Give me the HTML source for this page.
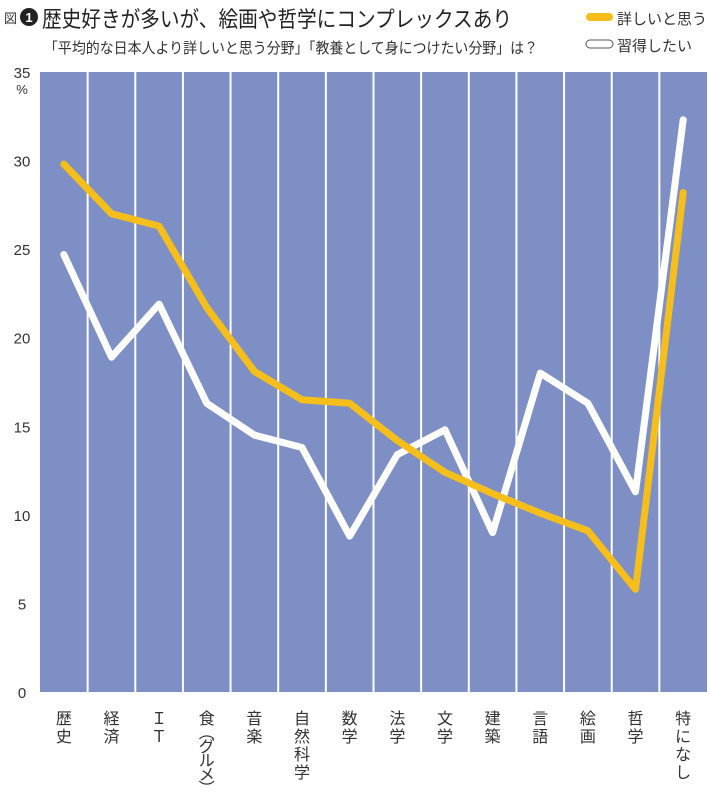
<!DOCTYPE html>
<html><head><meta charset="utf-8"><style>
body{margin:0;background:#fff;width:710px;height:796px;overflow:hidden;font-family:"Liberation Sans","Noto Sans CJK JP",sans-serif;}
</style></head><body>
<svg width="710" height="796" xmlns="http://www.w3.org/2000/svg">
<g>
<text x="4" y="23" font-size="13" fill="#333" font-family="Noto Sans CJK JP, sans-serif">図</text>
<circle cx="29" cy="17" r="9" fill="#222"/>
<text x="29" y="22" font-size="13" fill="#fff" text-anchor="middle" font-family="Liberation Sans, sans-serif" font-weight="bold">1</text>
<text x="42" y="27" font-size="22" fill="#222" font-family="Noto Sans CJK JP, sans-serif" textLength="470" lengthAdjust="spacingAndGlyphs">歴史好きが多いが、絵画や哲学にコンプレックスあり</text>
<text x="44" y="53" font-size="15" fill="#333" font-family="Noto Sans CJK JP, sans-serif" textLength="494" lengthAdjust="spacingAndGlyphs">「平均的な日本人より詳しいと思う分野」「教養として身につけたい分野」は？</text>
</g>
<g>
<g>
<rect x="586" y="13" width="27" height="8" rx="4" fill="#f5be1a"/>
<text x="617" y="24" font-size="15" fill="#333" font-family="Noto Sans CJK JP, sans-serif">詳しいと思う</text>
</g>
<g>
<rect x="586" y="40" width="27" height="8" rx="4" fill="#fff" stroke="#555" stroke-width="1"/>
<text x="617" y="51" font-size="15" fill="#333" font-family="Noto Sans CJK JP, sans-serif">習得したい</text>
</g>
</g>
<rect x="40" y="72" width="667" height="620" fill="#7e8fc5"/>
<g id="dividers"></g>
<g id="yaxis"></g>
<g id="xaxis"></g>
<g id="series"></g>
</svg>
<script>
const categories=["歴史","経済","IT","食（グルメ）","音楽","自然科学","数学","法学","文学","建築","言語","絵画","哲学","特になし"];
const labelTexts=["歴史","経済","ＩＴ","食︵グルメ︶","音楽","自然科学","数学","法学","文学","建築","言語","絵画","哲学","特になし"];
const knowValues=[29.8,27.0,26.3,21.7,18.1,16.5,16.3,14.2,12.4,11.2,10.1,9.1,5.8,28.2];
const learnValues=[24.7,18.9,21.9,16.3,14.5,13.8,8.8,13.4,14.8,9.0,18.0,16.3,11.3,32.3];
const yTicks=[0,5,10,15,20,25,30,35];
const NS="http://www.w3.org/2000/svg";
const L=40,R=707,T=72,B=692,YMAX=35;
const bw=(R-L)/categories.length;
function x(i){return L+bw*(i+0.5);}
function y(v){return B-(v/YMAX)*(B-T);}
function mk(t,a){const e=document.createElementNS(NS,t);for(const k in a)e.setAttribute(k,a[k]);return e;}
const dv=document.getElementById('dividers');
for(let i=1;i<categories.length;i++){
 const l=mk('line',{x1:L+bw*i,x2:L+bw*i,y1:T,y2:B,stroke:'#fff','stroke-width':2});
 
 
 dv.appendChild(l);
}
const ya=document.getElementById('yaxis');
yTicks.forEach(v=>{
 const t=mk('text',{x:22,y:y(v)+6,'font-size':15,fill:'#333','text-anchor':'middle'});
 t.textContent=v;
 
 
 ya.appendChild(t);
});
const pc=mk('text',{x:22,y:y(35)+22,'font-size':13,fill:'#333','text-anchor':'middle'});
pc.textContent='%';


ya.appendChild(pc);
const xa=document.getElementById('xaxis');
labelTexts.forEach((s,i)=>{
 const g=mk('text',{'font-size':16,fill:'#333','font-family':'Noto Sans CJK JP, sans-serif','text-anchor':'middle'});
 
 
 const chars=[...s];
 const step=chars.length>4?14:18;
 chars.forEach((ch,k)=>{
  const ts=mk('tspan',{x:x(i),y:724+k*step});
  ts.textContent=ch;g.appendChild(ts);
 });
 xa.appendChild(g);
});
const se=document.getElementById('series');
function line(vals,color,name){
 const d=vals.map((v,i)=>(i?'L':'M')+x(i).toFixed(1)+' '+y(v).toFixed(1)).join(' ');
 const p=mk('path',{d:d,fill:'none',stroke:color,'stroke-width':7,'stroke-linejoin':'round','stroke-linecap':'round'});
 
 
 se.appendChild(p);
}
line(learnValues,'#ffffff','learn-series-line');
line(knowValues,'#f5be1a','know-series-line');
</script>
</body></html>
